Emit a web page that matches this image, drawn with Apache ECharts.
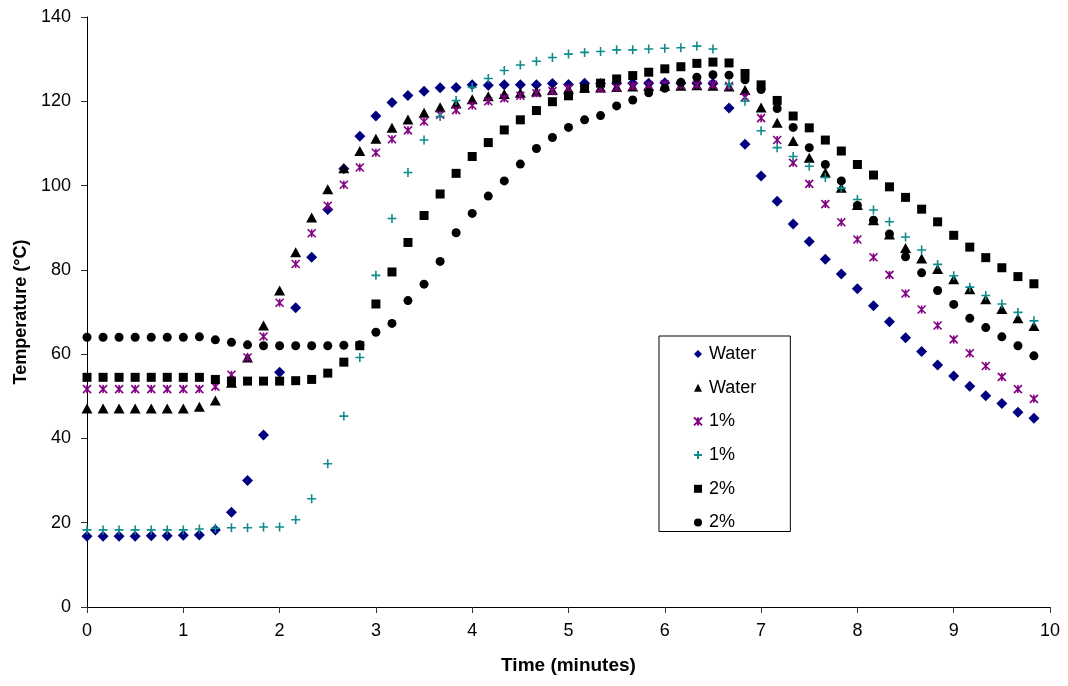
<!DOCTYPE html>
<html><head><meta charset="utf-8">
<script src="https://cdn.jsdelivr.net/npm/echarts@6/dist/echarts.min.js"></script>
<style>html,body{margin:0;padding:0;background:#fff}#c{width:1068px;height:686px}</style>
</head><body><div id="c"></div>
<script>
// Time in minutes (10-second readings)
const timeMin = [0,0.167,0.333,0.5,0.667,0.833,1,1.167,1.333,1.5,1.667,1.833,2,2.167,2.333,2.5,2.667,2.833,3,3.167,3.333,3.5,3.667,3.833,4,4.167,4.333,4.5,4.667,4.833,5,5.167,5.333,5.5,5.667,5.833,6,6.167,6.333,6.5,6.667,6.833,7,7.167,7.333,7.5,7.667,7.833,8,8.167,8.333,8.5,8.667,8.833,9,9.167,9.333,9.5,9.667,9.833];

const seriesNames = ['Water','Water','1%','1%','2%','2%'];

const waterA = [16.8,16.8,16.8,16.8,16.9,16.9,17.0,17.1,18.3,22.5,30.0,40.8,55.7,71.0,83.0,94.3,104.0,111.7,116.5,119.7,121.4,122.4,123.2,123.3,123.9,123.8,123.9,123.9,123.9,124.2,124.0,124.3,124.2,124.3,124.3,124.3,124.4,124.3,124.3,124.2,118.4,109.8,102.3,96.3,90.9,86.7,82.5,79.0,75.5,71.5,67.7,63.9,60.6,57.4,54.8,52.4,50.1,48.3,46.2,44.8];
const waterB = [47.1,47.1,47.1,47.1,47.1,47.1,47.1,47.5,49.0,53.2,59.2,66.8,75.1,84.2,92.4,99.1,104.1,108.2,111.1,113.7,115.7,117.3,118.6,119.5,120.5,121.2,121.7,122.0,122.3,122.7,122.9,123.2,123.3,123.4,123.5,123.6,123.7,123.7,123.8,123.7,123.5,122.7,118.5,114.9,110.6,106.6,103.1,99.5,95.4,91.8,88.4,85.2,82.7,80.2,77.8,75.4,73.0,70.7,68.5,66.7];
const pct1A = [51.7,51.7,51.7,51.7,51.7,51.7,51.7,51.7,52.3,55.1,59.2,64.2,72.2,81.4,88.7,95.2,100.2,104.3,107.8,111.0,113.1,115.2,116.8,117.9,119.0,120.0,120.7,121.3,121.9,122.4,123.1,123.1,123.0,123.2,123.6,123.8,124.0,123.8,123.9,123.9,123.6,121.0,116.0,110.8,105.4,100.4,95.6,91.3,87.2,83.0,78.8,74.4,70.6,66.8,63.5,60.2,57.2,54.6,51.7,49.4];
const pct1B = [18.3,18.3,18.3,18.3,18.3,18.3,18.3,18.5,18.7,18.8,18.8,19.0,19.0,20.7,25.7,34.0,45.3,59.2,78.7,92.2,103.1,110.8,116.4,120.2,123.3,125.4,127.3,128.6,129.5,130.4,131.2,131.6,131.8,132.2,132.2,132.4,132.6,132.7,133.1,132.4,124.0,120.0,113.0,109.0,106.9,104.6,101.9,99.4,96.7,94.2,91.4,87.8,84.7,81.3,78.6,75.9,73.9,71.9,69.9,67.9];
const pct2A = [54.5,54.5,54.5,54.5,54.5,54.5,54.5,54.5,54.0,53.6,53.6,53.6,53.6,53.7,54.0,55.5,58.1,62.0,71.9,79.5,86.5,92.9,98.0,102.9,106.9,110.2,113.2,115.6,117.8,119.9,121.3,123.1,124.3,125.3,126.1,126.9,127.7,128.2,129.0,129.3,129.1,126.6,123.9,120.2,116.5,113.7,110.8,108.2,105.0,102.5,99.7,97.2,94.4,91.4,88.2,85.4,82.9,80.5,78.4,76.7];
const pct2B = [64.0,64.0,64.0,64.0,64.0,64.0,64.0,64.1,63.4,62.8,62.2,62.0,62.0,62.0,62.0,62.0,62.1,62.2,65.2,67.3,72.7,76.6,82.0,88.8,93.4,97.5,101.1,105.1,108.8,111.4,113.8,115.6,116.6,118.9,120.3,122.0,123.1,124.5,125.7,126.3,126.2,125.1,122.8,118.3,113.8,109.0,105.0,101.1,95.3,91.8,88.5,83.1,79.3,75.1,71.8,68.5,66.3,64.1,62.0,59.6];

const xTicks = [0,1,2,3,4,5,6,7,8,9,10];
const yTicks = [0,20,40,60,80,100,120,140];

const FONT = 'Arial, "Liberation Sans", sans-serif';
const pair = arr => arr.map((v,i)=>[timeMin[i], v]);

const ASTERISK = 'path://M0,0L10,10M10,0L0,10M5,0L5,10';
const PLUS = 'path://M5,0L5,10M0,5L10,5';

const styles = [
  {symbol:'diamond', size:[11,11], color:'#000080'},
  {symbol:'triangle', size:[11,10], color:'#000000'},
  {symbol:ASTERISK, size:[8,8], color:'#800080', stroke:true},
  {symbol:PLUS, size:[9,9], color:'#0E8C8C', stroke:true},
  {symbol:'rect', size:[9,9], color:'#000000'},
  {symbol:'circle', size:[9,9], color:'#000000'}
];
const datas = [waterA, waterB, pct1A, pct1B, pct2A, pct2B];

const series = datas.map((d,k)=>{
  const s = styles[k];
  const itemStyle = s.stroke ? {color:s.color, borderColor:s.color, borderWidth:1.6, opacity:1}
                             : {color:s.color, opacity:1};
  return {
    name: seriesNames[k] + '\u200B'.repeat(k),
    type:'scatter',
    data: pair(d),
    symbol: s.symbol,
    symbolSize: s.size,
    itemStyle,
    clip:false,
    emphasis:{disabled:true},
    z: 2 + k
  };
});

const chart = echarts.init(document.getElementById('c'), null, {renderer:'canvas'});
chart.setOption({
  animation:false,
  backgroundColor:'#ffffff',
  grid:{left:87, right:18, top:17, bottom:79, containLabel:false},
  legend:{
    orient:'vertical', left:659, top:336,
    data: series.map(s=>s.name),
    formatter: n => n.replace(/\u200B/g,''),
    itemWidth:8, itemHeight:8, itemGap:15.7,
    padding:[9,34,0,34],
    borderColor:'#000', borderWidth:1,
    backgroundColor:'#fff',
    textStyle:{fontFamily:FONT, fontSize:18, color:'#000', padding:[0,0,0,2]},
    selectedMode:false
  },
  xAxis:{
    type:'value', min:0, max:10, interval:1,
    name:'Time (minutes)', nameLocation:'middle', nameGap:49,
    nameTextStyle:{fontFamily:FONT, fontSize:19, fontWeight:'bold', color:'#000'},
    axisLine:{show:true, onZero:false, lineStyle:{color:'#000', width:1}},
    axisTick:{show:true, length:6, lineStyle:{color:'#333'}},
    axisLabel:{fontFamily:FONT, fontSize:18, color:'#000', margin:15, formatter: v => String(v)},
    splitLine:{show:false}
  },
  yAxis:{
    type:'value', min:0, max:140, interval:20,
    name:'Temperature (°C)', nameLocation:'middle', nameGap:57, nameRotate:90,
    nameTextStyle:{fontFamily:FONT, fontSize:18, fontWeight:'bold', color:'#000'},
    axisLine:{show:true, onZero:false, lineStyle:{color:'#000', width:1}},
    axisTick:{show:true, length:6, lineStyle:{color:'#333'}},
    axisLabel:{fontFamily:FONT, fontSize:18, color:'#000', margin:16},
    splitLine:{show:false}
  },
  series
});
</script></body></html>
